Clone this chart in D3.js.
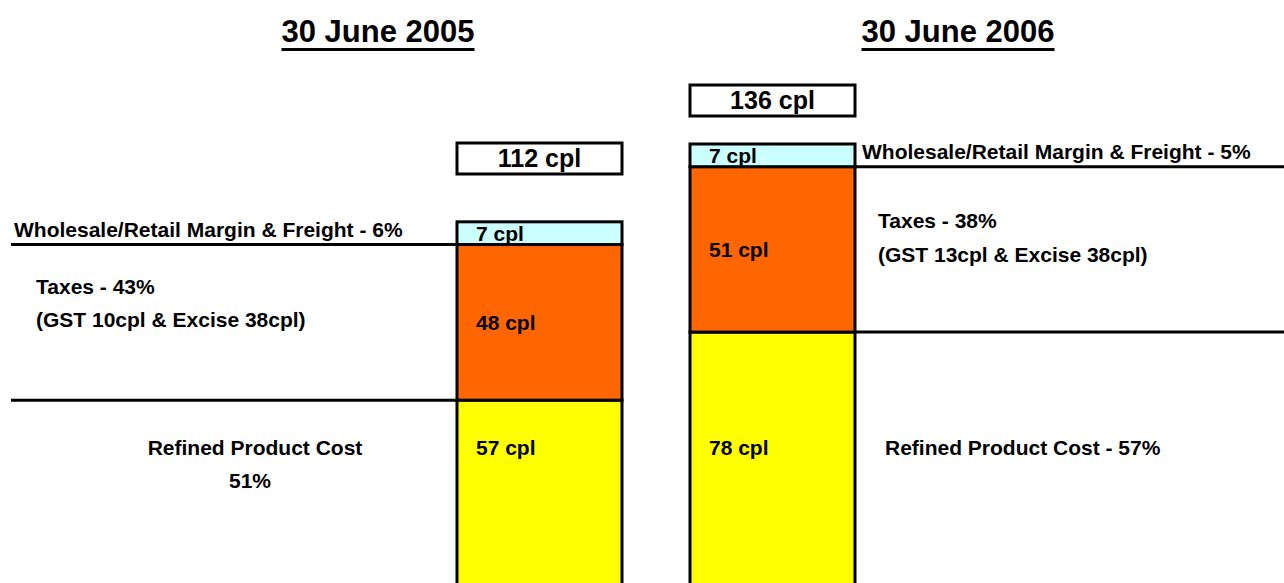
<!DOCTYPE html>
<html>
<head>
<meta charset="utf-8">
<script src="https://cdn.jsdelivr.net/npm/d3@7"></script>
<style>
  body { margin: 0; background: #fff; }
  svg { display: block; font-family: "Liberation Sans", Arial, sans-serif; font-weight: bold; }
</style>
</head>
<body>
<div id="chart"></div>
<script>
// periods and cost components (cents per litre)
const periods = ["30 June 2005", "30 June 2006"];
const refinedCost = [57, 78];
const taxes = [48, 51];
const margin = [7, 7];
const totals = [112, 136];
const gst = [10, 13];
const excise = [38, 38];
// share of pump price, %
const refinedShare = [51, 57];
const taxShare = [43, 38];
const marginShare = [6, 5];

const keys = ["refined", "taxes", "margin"];
const colors = { refined: "#ffff00", taxes: "#ff6600", margin: "#ccffff" };

const width = 1284;
const height = 583;
const fs = 21;

const svg = d3.select("#chart").append("svg")
  .attr("width", width)
  .attr("height", height);

const rows = periods.map((p, i) => ({
  period: p, refined: refinedCost[i], taxes: taxes[i], margin: margin[i]
}));
const series = d3.stack().keys(keys)(rows);

const x = d3.scaleBand()
  .domain(periods)
  .range([457, 855])
  .paddingInner(68 / 233)
  .paddingOuter(0);

const y = d3.scaleLinear()
  .domain([0, d3.max(totals)])
  .range([585, 144]);

const bw = x.bandwidth();

// titles, underlined
const titleX = [378, 958];
periods.forEach((p, i) => {
  const t = svg.append("text")
    .attr("x", titleX[i])
    .attr("y", 42)
    .attr("text-anchor", "middle")
    .attr("font-size", 31)
    .text(p);
  const bb = t.node().getBBox();
  svg.append("line")
    .attr("x1", bb.x).attr("x2", bb.x + bb.width)
    .attr("y1", 49.5).attr("y2", 49.5)
    .attr("stroke", "#000").attr("stroke-width", 3);
});

// guide lines from the segment tops out to the side labels
const left = rows[0], right = rows[1];
const g = svg.append("g").attr("stroke", "#000").attr("stroke-width", 3);
[left.refined + left.taxes, left.refined].forEach(v => {
  g.append("line")
    .attr("x1", 11).attr("x2", x(left.period))
    .attr("y1", y(v)).attr("y2", y(v));
});
[right.refined + right.taxes, right.refined].forEach(v => {
  g.append("line")
    .attr("x1", x(right.period) + bw).attr("x2", width)
    .attr("y1", y(v)).attr("y2", y(v));
});

// stacked bars
svg.append("g")
  .selectAll("g")
  .data(series)
  .join("g")
  .attr("fill", d => colors[d.key])
  .selectAll("rect")
  .data(d => d)
  .join("rect")
  .attr("x", d => x(d.data.period))
  .attr("y", d => y(d[1]))
  .attr("width", bw)
  .attr("height", d => y(d[0]) - y(d[1]))
  .attr("stroke", "#000")
  .attr("stroke-width", 3);

// value labels inside the bars
series.forEach(s => {
  s.forEach(d => {
    const mid = (y(d[0]) + y(d[1])) / 2;
    svg.append("text")
      .attr("x", x(d.data.period) + 19)
      .attr("y", s.key === "refined" ? 455 : mid + 7.5)
      .attr("font-size", fs)
      .text(`${d.data[s.key]} cpl`);
  });
});

// total boxes
const boxY = [143, 85];
periods.forEach((p, i) => {
  svg.append("rect")
    .attr("x", x(p)).attr("y", boxY[i])
    .attr("width", bw).attr("height", 31)
    .attr("fill", "#fff")
    .attr("stroke", "#000").attr("stroke-width", 3);
  svg.append("text")
    .attr("x", x(p) + bw / 2)
    .attr("y", boxY[i] + 24)
    .attr("text-anchor", "middle")
    .attr("font-size", 25)
    .text(`${totals[i]} cpl`);
});

// side annotations
const note = (tx, ty, str, anchor = "start") =>
  svg.append("text")
    .attr("x", tx).attr("y", ty)
    .attr("text-anchor", anchor)
    .attr("font-size", fs)
    .text(str);

note(14, y(left.refined + left.taxes) - 8, `Wholesale/Retail Margin & Freight - ${marginShare[0]}%`);
note(36, 294, `Taxes - ${taxShare[0]}%`);
note(36, 327, `(GST ${gst[0]}cpl & Excise ${excise[0]}cpl)`);
note(255, 455, "Refined Product Cost", "middle");
note(250, 488, `${refinedShare[0]}%`, "middle");

note(862, y(right.refined + right.taxes) - 8, `Wholesale/Retail Margin & Freight - ${marginShare[1]}%`);
note(878, 228, `Taxes - ${taxShare[1]}%`);
note(878, 262, `(GST ${gst[1]}cpl & Excise ${excise[1]}cpl)`);
note(885, 455, `Refined Product Cost - ${refinedShare[1]}%`);
</script>
</body>
</html>
